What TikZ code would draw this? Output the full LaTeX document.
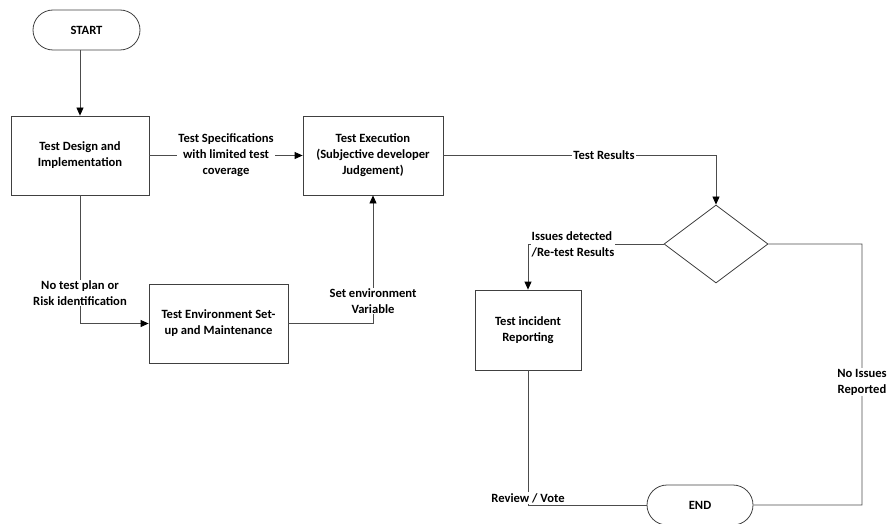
\documentclass[tikz,border=0pt]{standalone}
\usepackage{fontspec}
\setmainfont{Carlito}
\usetikzlibrary{arrows.meta,shapes.geometric,shapes.misc}
\begin{document}
\begin{tikzpicture}[x=1pt,y=-1pt,
  every node/.style={font=\bfseries\fontsize{12.6}{16}\selectfont, text=black},
  proc/.style={draw=black!75, line width=0.8pt, minimum width=138pt, minimum height=79pt, align=center, inner sep=0pt},
  term/.style={draw=black!75, line width=0.8pt, rounded rectangle, minimum width=107pt, minimum height=40pt, inner sep=0pt},
  dec/.style={draw=black!75, line width=0.8pt, diamond, minimum width=104pt, minimum height=78pt, inner sep=0pt, aspect=1.33},
  conn/.style={draw=black!70, line width=0.8pt},
  arr/.style={conn, -{Triangle[length=8pt,width=7pt,color=black]}},
  lbl/.style={fill=white, align=center, inner sep=1pt}
]
\useasboundingbox (0,0) rectangle (888,524);
\node[term] (start) at (86.5,30) {START};
\node[proc] (design) at (80,155.5) {Test Design and\\Implementation};
\node[proc, minimum width=140pt] (exec) at (373,155.5) {Test Execution\\(Subjective developer\\Judgement)};
\node[proc, minimum width=139pt] (env) at (218.5,323.5) {Test Environment Set-\\up and Maintenance};
\node[dec] (dec) at (716,244) {};
\node[proc, minimum width=106pt, minimum height=80pt] (inc) at (528,330) {Test incident\\Reporting};
\node[term, minimum width=106pt] (end) at (700,505) {END};

\coordinate (c1) at (80,323.5);
\coordinate (c2) at (373,323.5);
\coordinate (c3) at (716,155.5);
\coordinate (c4) at (528,244);
\coordinate (c5) at (528,505);
\coordinate (c6) at (862,244);
\coordinate (c7) at (862,505);

\draw[arr] (start.south -| design.north) -- (design);
\draw[arr] (design) -- node[lbl] {Test Specifications\\with limited test\\coverage} (exec);
\draw[arr] (design) -- (c1) -- (env);
\node[lbl] at (80,293) {No test plan or\\Risk identification};
\draw[arr] (env) -- (c2) -- (exec);
\node[lbl] at (373,301) {Set environment\\Variable};
\draw[arr] (exec) -- (c3) -- (dec);
\node[lbl] at (604,155) {Test Results};
\draw[arr] (dec) -- (c4) -- (inc);
\node[lbl, align=left] at (573,244) {Issues detected\\/Re-test Results};
\draw[conn] (inc) -- (c5) -- (end);
\node[lbl, anchor=south] at (528,504) {Review / Vote};
\draw[conn] (dec) -- (c6) -- (c7) -- (end);
\node[lbl] at (862,382) {No Issues\\Reported};
\end{tikzpicture}
\end{document}
